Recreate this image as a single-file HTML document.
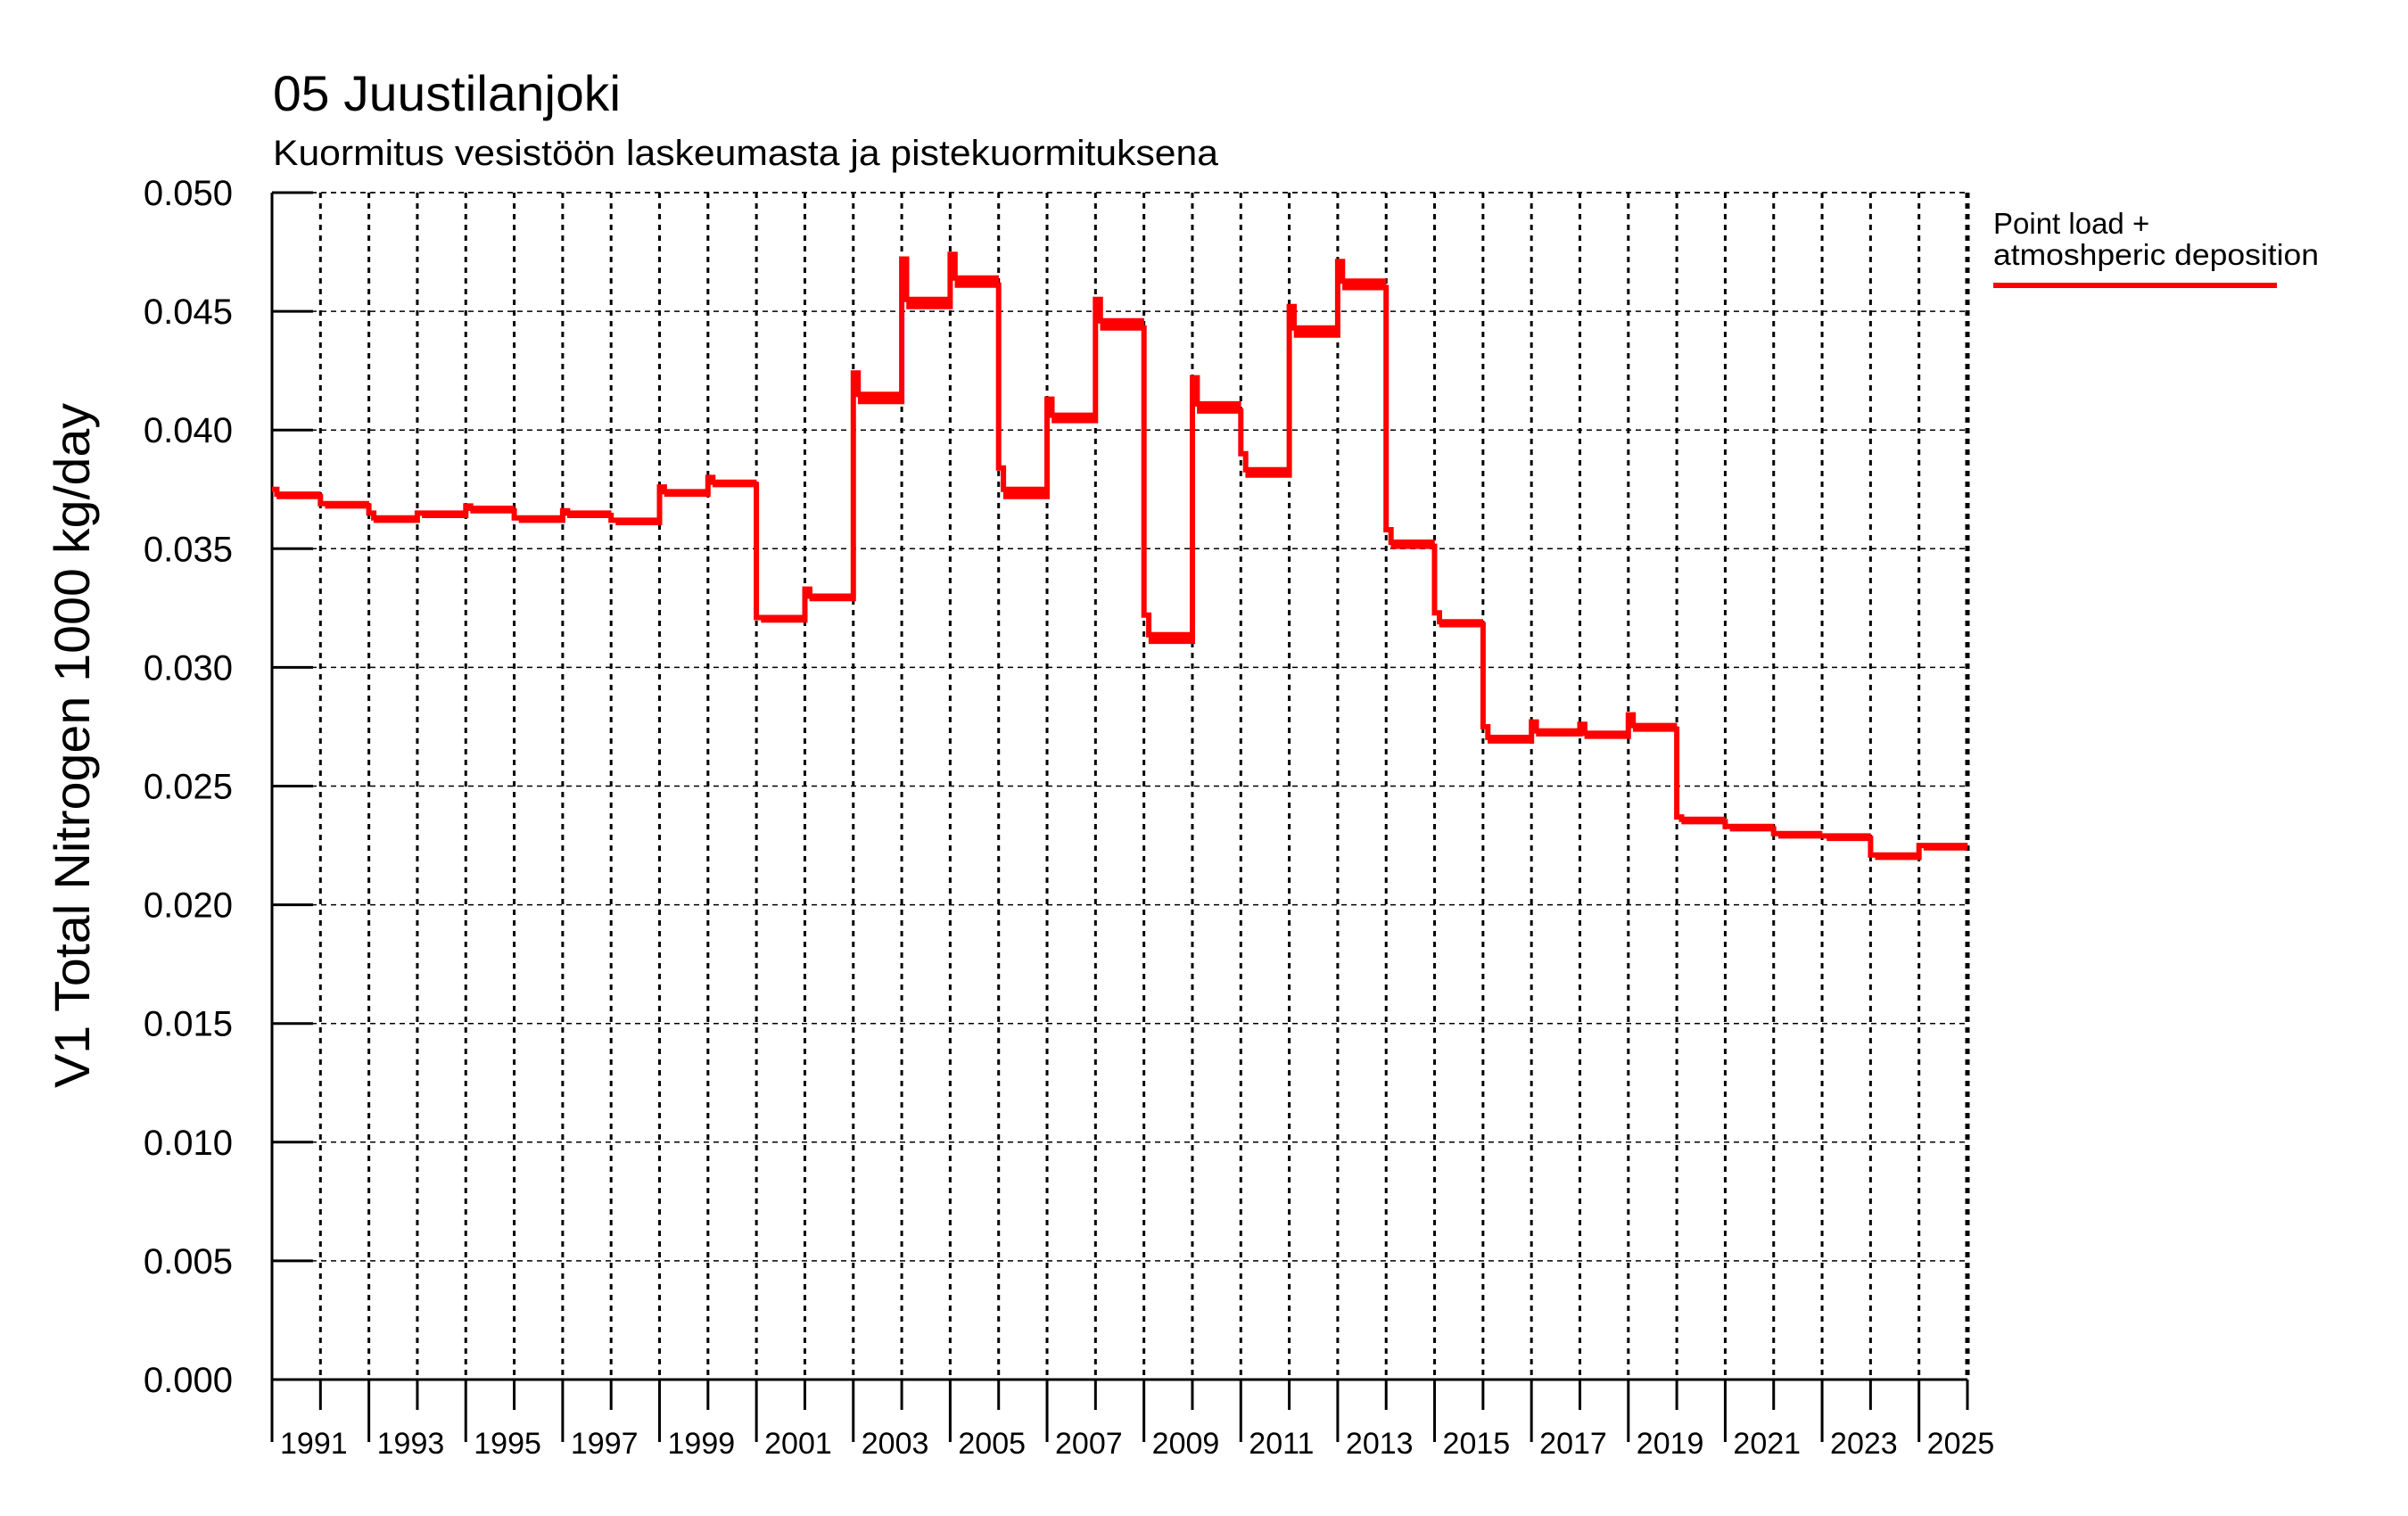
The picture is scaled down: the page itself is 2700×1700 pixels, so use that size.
<!DOCTYPE html>
<html><head><meta charset="utf-8"><style>
html,body{margin:0;padding:0;background:#fff;}
svg{display:block;font-family:"Liberation Sans",sans-serif;}
</style></head><body>
<svg id="chart" width="2700" height="1700" viewBox="0 0 2700 1700" xmlns="http://www.w3.org/2000/svg">
<text x="306" y="124" font-size="56" textLength="390" lengthAdjust="spacingAndGlyphs">05 Juustilanjoki</text>
<text x="306" y="185" font-size="40" textLength="1060" lengthAdjust="spacingAndGlyphs">Kuormitus vesistöön laskeumasta ja pistekuormituksena</text>
<text transform="translate(100,836) rotate(-90)" text-anchor="middle" font-size="56" textLength="768" lengthAdjust="spacingAndGlyphs">V1 Total Nitrogen 1000 kg/day</text>
<g id="grid"></g>
<g id="axes"></g>
<g id="series"></g>
<g>
<text x="2235" y="262" font-size="33">Point load +</text>
<text x="2235" y="297" font-size="33" textLength="365" lengthAdjust="spacingAndGlyphs">atmoshperic deposition</text>
<line x1="2235" y1="320" x2="2553" y2="320" stroke="#ff0000" stroke-width="6"/>
</g>
</svg>
<script>
const years = [1991,1992,1993,1994,1995,1996,1997,1998,1999,2000,2001,2002,2003,2004,2005,2006,2007,2008,2009,2010,2011,2012,2013,2014,2015,2016,2017,2018,2019,2020,2021,2022,2023,2024,2025];
const baseValues = [0.0372,0.0368,0.0362,0.0364,0.0366,0.0362,0.0364,0.0361,0.0373,0.0377,0.0320,0.0329,0.0412,0.0452,0.0461,0.0372,0.0404,0.0443,0.0311,0.0408,0.0381,0.0440,0.0460,0.0351,0.0318,0.0269,0.0272,0.0271,0.0274,0.0235,0.0232,0.0229,0.0228,0.0220,0.0224];
const spikeValues = [0.0375,0.0369,0.0365,0.0365,0.0368,0.0363,0.0366,0.0362,0.0376,0.0380,0.0321,0.0333,0.0424,0.0472,0.0474,0.0384,0.0413,0.0455,0.0322,0.0422,0.0390,0.0452,0.0471,0.0358,0.0323,0.0275,0.0277,0.0276,0.0280,0.0237,0.0233,0.0230,0.0229,0.0221,0.0225];
const yTicks = [0,0.005,0.010,0.015,0.020,0.025,0.030,0.035,0.040,0.045,0.050];
const yTickLabels = ["0.000","0.005","0.010","0.015","0.020","0.025","0.030","0.035","0.040","0.045","0.050"];
const xLabelYears = [1991,1993,1995,1997,1999,2001,2003,2005,2007,2009,2011,2013,2015,2017,2019,2021,2023,2025];

const X0=305,X1=2206,Y0=1547,Y1=216, XMIN=1991, XMAX=2026, YMAX=0.05;
const xs = t => X0 + (t-XMIN)/(XMAX-XMIN)*(X1-X0);
const ys = v => Y0 - v/YMAX*(Y0-Y1);
const NS="http://www.w3.org/2000/svg";
function mk(tag, attrs, parent){const e=document.createElementNS(NS,tag);for(const k in attrs)e.setAttribute(k,attrs[k]);parent.appendChild(e);return e;}
const grid=document.getElementById('grid'), axes=document.getElementById('axes'), series=document.getElementById('series');

yTicks.forEach((v,i)=>{
  if(i>0){const g=mk('line',{x1:X0,x2:X1,y1:ys(v),y2:ys(v),stroke:'#000','stroke-width':1.5,'stroke-dasharray':'6,5'},grid);
  
  }
  const t=mk('line',{x1:X0,x2:X0+46,y1:ys(v),y2:ys(v),stroke:'#000','stroke-width':3},axes);
  
  
  const l=mk('text',{x:261,y:ys(v)+14,'text-anchor':'end','font-size':40},axes);
  l.textContent=yTickLabels[i];
  
  
});
for(let y=XMIN; y<=XMAX; y++){
  const x=xs(y);
  if(y>XMIN){const g=mk('line',{x1:x,x2:x,y1:Y1,y2:Y0,stroke:'#000','stroke-width':y===XMAX?5:3,'stroke-dasharray':'6,6'},grid);
  
  }
  const major=((y-XMIN)%2===0);
  const t=mk('line',{x1:x,x2:x,y1:Y0,y2:major?1617:1581,stroke:'#000','stroke-width':3},axes);
  
  
}
xLabelYears.forEach(y=>{
  const l=mk('text',{x:xs(y)+9,y:1630,'font-size':34},axes);
  l.textContent=String(y);
  
  
});
const ax1=mk('line',{x1:X0,x2:X0,y1:Y1,y2:Y0,stroke:'#000','stroke-width':3},axes);


const ax2=mk('line',{x1:X0,x2:X1,y1:Y0,y2:Y0,stroke:'#000','stroke-width':3},axes);


const ax3=mk('line',{x1:X0,x2:X1,y1:Y1,y2:Y1,stroke:'#000','stroke-width':1.5,'stroke-dasharray':'6,5'},axes);



let d='';
const STEPS=20;
years.forEach((yr,i)=>{
  const b=baseValues[i], s=spikeValues[i];
  const w=Math.min(0.0003,Math.max(0.0001,(s-b)*0.25));
  for(let m=0;m<STEPS;m++){
    const v = m<2 ? s : (m%2===1 ? b : b+w);
    const xa=xs(yr+m/STEPS), xb=xs(yr+(m+1)/STEPS);
    d += (d===''?'M':'L')+xa.toFixed(1)+','+ys(v).toFixed(1)+'L'+xb.toFixed(1)+','+ys(v).toFixed(1);
  }
});
const p=mk('path',{d:d,fill:'none',stroke:'#ff0000','stroke-width':6,'stroke-linejoin':'miter'},series);


</script>
</body></html>
